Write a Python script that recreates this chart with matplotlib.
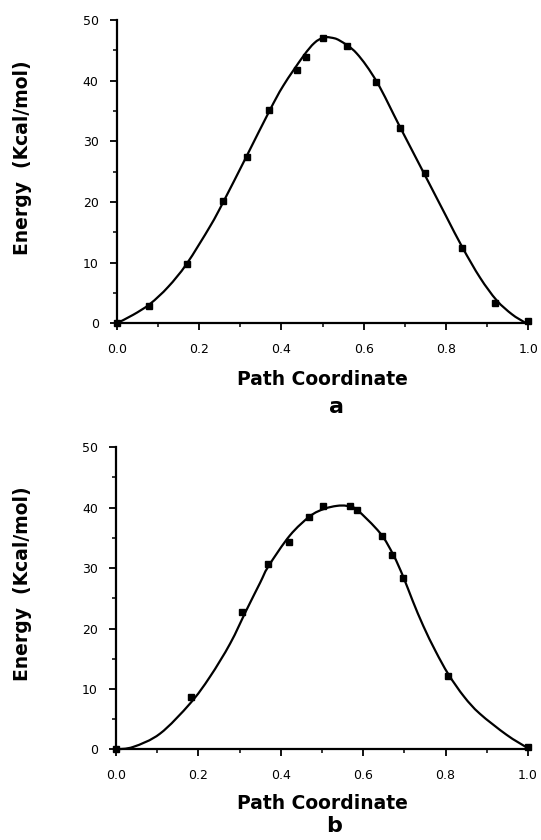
import matplotlib
matplotlib.use("Agg")
import matplotlib.pyplot as plt
from matplotlib.ticker import MultipleLocator, FixedLocator, FixedFormatter
from matplotlib.path import Path
from matplotlib.patches import PathPatch

# ---------------- data ----------------
# panel a: computed points
a_x = [0.0, 0.079, 0.170, 0.258, 0.317, 0.370, 0.437, 0.459, 0.502, 0.559,
       0.630, 0.688, 0.749, 0.838, 0.919, 1.0]
a_y = [0.0, 2.9, 9.7, 20.2, 27.4, 35.2, 41.8, 43.9, 47.0, 45.7,
       39.7, 32.2, 24.8, 12.4, 3.3, 0.3]
# panel a: fitted curve
a_curve_x = [0.0, 0.04, 0.081, 0.125, 0.170, 0.227, 0.259, 0.316, 0.371, 0.405,
             0.453, 0.48, 0.502, 0.52, 0.542, 0.583, 0.632, 0.688, 0.749,
             0.800, 0.840, 0.883, 0.923, 0.96, 0.99]
a_curve_y = [0.0, 1.4, 3.2, 6.0, 9.8, 16.0, 20.0, 27.6, 35.0, 39.2,
             44.0, 46.2, 47.1, 47.1, 46.6, 44.5, 39.8, 32.4, 24.4,
             17.7, 12.5, 7.5, 3.8, 1.5, 0.2]

# panel b: computed points
b_x = [0.0, 0.182, 0.307, 0.370, 0.419, 0.469, 0.502, 0.568, 0.586, 0.645,
       0.670, 0.697, 0.805, 1.0]
b_y = [0.0, 8.7, 22.8, 30.6, 34.4, 38.4, 40.3, 40.3, 39.6, 35.3,
       32.2, 28.4, 12.1, 0.3]
# panel b: fitted curve
b_curve_x = [0.0, 0.042, 0.107, 0.180, 0.228, 0.277, 0.317, 0.350, 0.370, 0.422,
             0.471, 0.505, 0.536, 0.560, 0.584, 0.641, 0.673, 0.697, 0.720, 0.746,
             0.776, 0.807, 0.845, 0.883, 0.948, 0.997]
b_curve_y = [0.0, 0.4, 2.6, 7.6, 12.0, 17.5, 23.1, 27.6, 30.3, 35.4,
             38.6, 39.8, 40.3, 40.3, 39.7, 35.8, 32.2, 28.6, 24.6, 20.4,
             16.2, 12.4, 8.7, 5.9, 2.4, 0.3]

x_ticks = [0.0, 0.2, 0.4, 0.6, 0.8, 1.0]
x_ticklabels = ["0.0", "0.2", "0.4", "0.6", "0.8", "1.0"]
y_ticks = [0, 10, 20, 30, 40, 50]
y_ticklabels = ["0", "10", "20", "30", "40", "50"]
x_label = "Path Coordinate"
y_label = "Energy  (Kcal/mol)"
panel_labels = ["a", "b"]

# ---------------- figure ----------------
W, H = 541, 840
fig = plt.figure(figsize=(W / 100, H / 100), dpi=100)
fig.patch.set_facecolor("white")


def px_rect(x0, x1, ytop, ybot):
    return [x0 / W, 1 - ybot / H, (x1 - x0) / W, (ybot - ytop) / H]


def smooth_path(xs, ys):
    """Smooth Bezier path (Catmull-Rom style) passing through the read points."""
    pts = list(zip(xs, ys))
    n = len(pts)
    verts = [pts[0]]
    codes = [Path.MOVETO]
    for i in range(n - 1):
        p0 = pts[i - 1] if i > 0 else pts[i]
        p1 = pts[i]
        p2 = pts[i + 1]
        p3 = pts[i + 2] if i + 2 < n else pts[i + 1]
        c1 = (p1[0] + (p2[0] - p0[0]) / 6, p1[1] + (p2[1] - p0[1]) / 6)
        c2 = (p2[0] - (p3[0] - p1[0]) / 6, p2[1] - (p3[1] - p1[1]) / 6)
        verts += [c1, c2, p2]
        codes += [Path.CURVE4] * 3
    return Path(verts, codes)


axes_specs = [
    dict(rect=px_rect(116.7, 528.3, 20, 323.3), px=a_x, py=a_y, cx=a_curve_x, cy=a_curve_y,
         xlab_base=385, ylab_c=158, plab=(336, 413, "baseline")),
    dict(rect=px_rect(116.0, 528.0, 447.3, 749.3), px=b_x, py=b_y, cx=b_curve_x, cy=b_curve_y,
         xlab_base=809, ylab_c=584, plab=(334, 816, "top")),
]

for i, spec in enumerate(axes_specs):
    ax = fig.add_axes(spec["rect"])
    patch = PathPatch(smooth_path(spec["cx"], spec["cy"]), facecolor="none",
                      edgecolor="black", lw=1.6, capstyle="round", clip_on=False, zorder=3)
    ax.add_patch(patch)
    ax.plot(spec["px"], spec["py"], ls="none", marker="s", ms=4.2, color="black",
            clip_on=False, zorder=4)
    ax.set_xlim(0, 1.0)
    ax.set_ylim(0, 50)
    for s in ["top", "right"]:
        ax.spines[s].set_visible(False)
    for s in ["left", "bottom"]:
        ax.spines[s].set_linewidth(1.6)
    ax.xaxis.set_major_locator(FixedLocator(x_ticks))
    ax.xaxis.set_major_formatter(FixedFormatter(x_ticklabels))
    ax.xaxis.set_minor_locator(MultipleLocator(0.1))
    ax.yaxis.set_major_locator(FixedLocator(y_ticks))
    ax.yaxis.set_major_formatter(FixedFormatter(y_ticklabels))
    ax.yaxis.set_minor_locator(MultipleLocator(5))
    ax.tick_params(which="major", direction="out", length=5, width=1.3,
                   labelsize=9, color="black")
    ax.tick_params(axis="x", which="major", pad=9)
    ax.tick_params(axis="y", which="major", pad=8)
    ax.tick_params(which="minor", direction="out", length=3, width=1.1)
    for lab in ax.get_xticklabels() + ax.get_yticklabels():
        lab.set_family("DejaVu Sans")

    fig.text(322 / W, 1 - spec["xlab_base"] / H, x_label, ha="center", va="baseline",
             fontsize=13.5, fontweight="bold", family="DejaVu Sans")
    fig.text(23 / W, 1 - spec["ylab_c"] / H, y_label, ha="center", va="center",
             rotation=90, fontsize=13.5, fontweight="bold", family="DejaVu Sans")
    px_, py_, va_ = spec["plab"]
    fig.text(px_ / W, 1 - py_ / H, panel_labels[i], ha="center", va=va_,
             fontsize=16, fontweight="bold", family="DejaVu Sans")

fig.savefig("out.png", dpi=100, facecolor="white")
